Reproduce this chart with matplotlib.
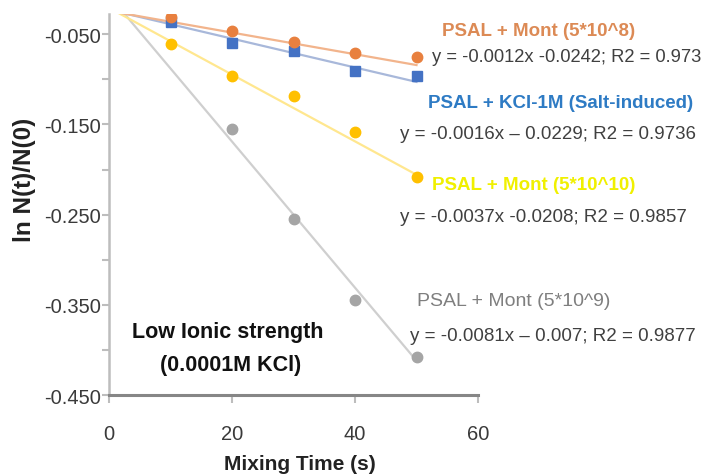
import numpy as np
import matplotlib
matplotlib.use("Agg")
import matplotlib.pyplot as plt

plt.rcParams['font.family'] = ['Liberation Sans', 'DejaVu Sans']

# mixing time (s)
t = [10, 20, 30, 40, 50]
t_gray = [20, 30, 40, 50]

# ln N(t)/N(0)
mont_5e8 = [-0.031, -0.046, -0.059, -0.071, -0.075]
kcl_1m = [-0.036, -0.060, -0.069, -0.091, -0.096]
mont_5e10 = [-0.061, -0.096, -0.119, -0.158, -0.208]
mont_5e9 = [-0.155, -0.255, -0.345, -0.408]

# trendline coefficients as printed on the chart
slopes = [-0.0012, -0.0016, -0.0037, -0.0081]
intercepts = [-0.0242, -0.0229, -0.0208, -0.007]

names = ['PSAL + Mont (5*10^8)', 'PSAL + KCl-1M (Salt-induced)',
         'PSAL + Mont (5*10^10)', 'PSAL + Mont (5*10^9)']
equations = ['y = -0.0012x -0.0242; R2 = 0.973',
             'y = -0.0016x \u2013 0.0229; R2 = 0.9736',
             'y = -0.0037x -0.0208; R2 = 0.9857',
             'y = -0.0081x \u2013 0.007; R2 = 0.9877']

marker_cols = ['#E8803F', '#4472C4', '#FFC000', '#A5A5A5']
line_cols = ['#F2B48C', '#A8B8DA', '#FFE78F', '#CFCFCF']
title_cols = ['#DC8A55', '#2E7BC4', '#F0F000', '#7F7F7F']

fig = plt.figure(figsize=(7.2, 4.77), dpi=100)
W, H = 720, 477
ax = fig.add_axes([109 / W, 1 - 396 / H, 369 / W, 381 / H])

series = [(t, mont_5e8, 'o'), (t, kcl_1m, 's'), (t, mont_5e10, 'o'), (t_gray, mont_5e9, 'o')]
order = [3, 2, 1, 0]
for i in order:
    xs, ys, mk = series[i]
    xl = np.array([0, 50])
    ax.plot(xl, slopes[i] * xl + intercepts[i], color=line_cols[i], lw=1.6, zorder=2)
    ax.plot(xs, ys, mk, color=marker_cols[i], ms=7.5, mec=marker_cols[i], zorder=3)

ax.set_xlim(0, 60)
ax.set_ylim(-0.45, -0.0276)
ax.set_xticks([0, 20, 40, 60])
ax.set_yticks([-0.45, -0.35, -0.25, -0.15, -0.05])
ax.set_yticklabels(['-0.450', '-0.350', '-0.250', '-0.150', '-0.050'])
ax.set_yticks([-0.4, -0.3, -0.2, -0.1], minor=True)

for s in ['top', 'right']:
    ax.spines[s].set_visible(False)
ax.spines['left'].set_color('#BDBDBD')
ax.spines['left'].set_linewidth(1.8)
ax.spines['bottom'].set_color('#868686')
ax.spines['bottom'].set_linewidth(2.2)

ax.tick_params(axis='y', which='both', direction='out', length=5, width=1.5,
               color='#BDBDBD', labelsize=14.5, labelcolor='#3A3A3A', pad=1)
ax.tick_params(axis='x', direction='out', length=6, width=1.5, color='#BDBDBD',
               labelsize=14.5, labelcolor='#3A3A3A', pad=15)

# axis titles
fig.text(300 / W, 1 - 465 / H, 'Mixing Time (s)', ha='center', va='center',
         fontsize=15, fontweight='bold', color='#222222')
fig.text(24 / W, 1 - 180 / H, 'ln N(t)/N(0)', ha='center', va='center',
         rotation=90, fontsize=17.5, fontweight='bold', color='#222222')

# series annotations (pixel positions of the left edge and centre line)
title_pos = [(442, 31), (428, 104), (432, 185), (417, 302)]
eq_pos = [(432, 58), (400, 135), (400, 217), (410, 337)]
title_size = [13.5, 13.5, 13.5, 14]
eq_size = [13.2, 13.5, 13.5, 13.5]
for i in range(4):
    tx, ty = title_pos[i]
    fig.text(tx / W, 1 - ty / H, names[i], ha='left', va='center', fontsize=title_size[i],
             fontweight='normal' if i == 3 else 'bold', color=title_cols[i])
    ex, ey = eq_pos[i]
    fig.text(ex / W, 1 - ey / H, equations[i], ha='left', va='center',
             fontsize=eq_size[i], color='#404040')

fig.text(228 / W, 1 - 333 / H, 'Low Ionic strength', ha='center', va='center',
         fontsize=15.5, fontweight='bold', color='#111111')
fig.text(231 / W, 1 - 366 / H, '(0.0001M KCl)', ha='center', va='center',
         fontsize=15.5, fontweight='bold', color='#111111')

fig.savefig('out.png', dpi=100)
